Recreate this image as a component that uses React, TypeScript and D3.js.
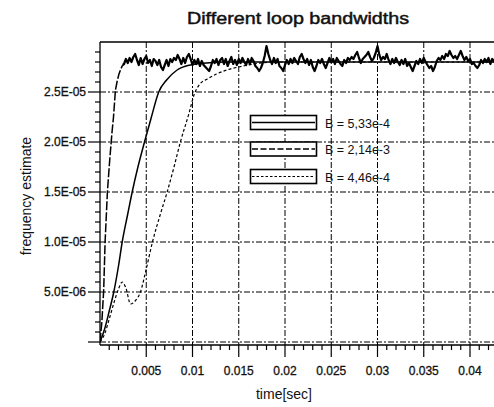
import React from 'react';
import * as d3 from 'd3';

// ---------- data (time in ms, values in units of 1e-6) ----------
const fastTimeMs = [0, 0.2, 0.4, 0.55, 0.8, 1.05, 1.3, 1.45, 1.67, 1.86, 2.05, 2.25, 2.45];
const fastValue = [0, 2.0, 5.2, 10.0, 15.0, 18.2, 21.0, 22.4, 25.2, 26.1, 26.8, 27.3, 27.7];

// noisy steady-state part of the fast loop (sampled every 0.2 ms from 2.6 ms)
const noiseStartMs = 2.6;
const noiseStepMs = 0.2;
const fastNoiseValue = [
  27.8, 28.3, 27.9, 28.4, 28.0, 28.5, 28.8, 28.2, 27.7, 28.4, 27.8, 28.3, 28.6, 27.9, 28.2, 27.6, 28.3, 28.1, 27.7, 28.2,
  27.5, 27.2, 27.7, 28.2, 27.6, 28.3, 28.0, 28.4, 28.2, 28.7, 28.3, 27.8, 28.4, 27.9, 28.5, 28.8, 28.3, 27.7, 28.2, 27.8,
  28.3, 27.6, 28.1, 27.7, 27.5, 27.3, 27.1, 27.6, 28.2, 27.9, 28.3, 27.7, 28.2, 28.4, 27.8, 28.3, 27.6, 28.1, 28.5, 27.8,
  28.2, 27.7, 28.3, 27.9, 28.4, 28.0, 27.7, 28.3, 27.8, 28.4, 28.1, 27.6, 27.4, 27.1, 27.4, 27.9, 28.6, 29.6, 28.8, 28.2,
  27.8, 28.4, 27.9, 28.3, 27.6, 27.4, 27.1, 27.7, 28.2, 27.8, 28.3, 27.9, 28.4, 28.1, 27.8, 28.5, 28.8, 28.3, 27.9, 28.3,
  27.7, 28.2, 27.5, 27.1, 27.6, 28.2, 27.9, 28.3, 27.8, 27.4, 27.9, 28.4, 28.0, 28.3, 27.8, 28.4, 28.1, 27.8, 27.6, 28.2,
  27.9, 28.4, 28.2, 28.5, 28.3, 28.7, 29.0, 28.4, 27.9, 28.3, 28.5, 28.7, 29.0, 28.5, 28.1, 28.4, 28.9, 29.6, 28.7, 28.2,
  28.5, 28.3, 28.8, 28.2, 27.8, 28.3, 27.9, 28.4, 28.0, 27.7, 28.2, 27.8, 28.3, 27.6, 27.9, 27.5, 27.1, 27.6, 28.1, 27.8,
  28.3, 27.9, 28.4, 28.0, 27.7, 27.4, 27.6, 27.1, 27.5, 28.1, 28.4, 28.2, 28.6, 28.3, 28.8, 28.6, 29.1, 28.7, 28.4, 28.6,
  28.3, 28.7, 29.1, 28.6, 28.2, 28.5, 28.1, 28.3, 27.8, 27.9, 27.6, 27.4, 27.7, 28.2, 27.9, 28.3, 28.0, 28.4, 27.8, 28.3,
  28.1, 27.8, 28.2,
];

const solidTimeMs = [0, 0.5, 1.0, 1.49, 2.0, 2.4, 3.0, 3.48, 4.1, 4.81, 5.5, 6.35, 7.2, 8.34, 9.77, 11.5, 13.5, 16, 20, 45];
const solidValue = [0, 1.3, 3.1, 5.0, 7.6, 10.0, 12.8, 15.0, 17.5, 20.0, 22.3, 25.0, 26.2, 27.2, 27.7, 27.9, 28.0, 28.0, 28.0, 28.0];

const dotTimeMs = [0, 0.5, 1.0, 1.5, 2.0, 2.4, 2.8, 3.3, 3.8, 4.37, 5.0, 5.67, 6.5, 7.26, 8.0, 8.69, 9.6, 10.2, 10.8, 11.6, 12.6, 13.7, 15.0, 16.6, 19, 45];
const dotValue = [0, 0.8, 2.3, 3.9, 5.3, 6.0, 5.4, 3.8, 4.1, 5.0, 7.3, 10.0, 12.7, 15.0, 17.5, 20.0, 22.8, 24.8, 25.8, 26.3, 26.8, 27.2, 27.5, 27.8, 28.0, 28.0];

const legendLabels = ['B = 5,33e-4', 'B = 2,14e-3', 'B = 4,46e-4'];
const xTickValues = [0.005, 0.01, 0.015, 0.02, 0.025, 0.03, 0.035, 0.04];
const xTickLabels = ['0.005', '0.01', '0.015', '0.02', '0.025', '0.03', '0.035', '0.04'];
const yTickValues = [5e-6, 1e-5, 1.5e-5, 2e-5, 2.5e-5];
const yTickLabels = ['5.0E-06', '1.0E-05', '1.5E-05', '2.0E-05', '2.5E-05'];

const W = 494;
const H = 407;
const FONT = '"Liberation Sans", Arial, sans-serif';

export default function App() {
  const x = d3.scaleLinear().domain([0, 0.045]).range([100, 100 + 9 * 46.25]);
  const y = d3.scaleLinear().domain([-0.3e-6, 3.0e-5]).range([345, 42]);

  const risePts: [number, number][] = fastTimeMs.map((t, i) => [t / 1000, fastValue[i] * 1e-6]);
  const noisePts: [number, number][] = fastNoiseValue.map((v, i) => [(noiseStartMs + i * noiseStepMs) / 1000, v * 1e-6]);
  const steadyPts: [number, number][] = [risePts[risePts.length - 1], ...noisePts];
  const solidPts: [number, number][] = solidTimeMs.map((t, i) => [t / 1000, solidValue[i] * 1e-6]);
  const dotPts: [number, number][] = dotTimeMs.map((t, i) => [t / 1000, dotValue[i] * 1e-6]);

  const lineLinear = d3.line<[number, number]>().x((d) => x(d[0])).y((d) => y(d[1]));
  const lineSmooth = d3
    .line<[number, number]>()
    .x((d) => x(d[0]))
    .y((d) => y(d[1]))
    .curve(d3.curveMonotoneX);

  const left = 100;
  const top = 42;
  const bottom = 345;
  const right = W;

  const xMinor = d3.range(1, 43).map((k) => k * 0.001).filter((v) => Math.round(v * 1000) % 5 !== 0);
  const yMinor = d3.range(1, 30).map((k) => k * 1e-6).filter((v) => Math.round(v * 1e6) % 5 !== 0);
  const gridDash = '6,2,2,2';

  const legendTop = [115.5, 142, 169.5];
  const legendStyles = [
    { dash: undefined, w: 1.5 },
    { dash: '6,2.5', w: 1.3 },
    { dash: '2.5,2', w: 1.2 },
  ];

  return (
    <svg
      width={W}
      height={H}
      style={{ position: 'absolute', left: 0, top: 0, background: '#fff' }}
      fontFamily={FONT}
    >
      <rect width={W} height={H} fill="#fff" />
      <defs>
        <clipPath id="plotClip">
          <rect x={left} y={top - 2} width={right - left} height={bottom - top + 2} />
        </clipPath>
      </defs>

      {/* title */}
      <text
        x={298}
        y={24}
        textAnchor="middle"
        fontSize={16}
        fill="#111"
        stroke="#111"
        strokeWidth={0.45}
        textLength={222}
        lengthAdjust="spacingAndGlyphs"
      >
        Different loop bandwidths
      </text>

      {/* grid */}
      <g stroke="#000" strokeWidth={1} strokeDasharray={gridDash} fill="none">
        {xTickValues.map((v) => (
          <line key={'gx' + v} x1={x(v)} x2={x(v)} y1={top} y2={bottom} />
        ))}
        {[0, ...yTickValues].map((v) => (
          <line key={'gy' + v} x1={left} x2={right} y1={y(v)} y2={y(v)} />
        ))}
      </g>

      {/* frame: top border, left spine, bottom axis */}
      <g stroke="#000" strokeWidth={1.3}>
        <line x1={left} x2={right} y1={top} y2={top} />
        <line x1={left} x2={left} y1={top} y2={bottom} />
        <line x1={left} x2={right} y1={bottom} y2={bottom} />
      </g>

      {/* x ticks */}
      <g stroke="#000" strokeWidth={1.2}>
        {xMinor.map((v) => (
          <line key={'xm' + v} x1={x(v)} x2={x(v)} y1={bottom} y2={bottom + 5} />
        ))}
        {xTickValues.map((v) => (
          <line key={'xM' + v} x1={x(v)} x2={x(v)} y1={bottom} y2={bottom + 12} />
        ))}
      </g>
      <g fontSize={12} fill="#111" stroke="#111" strokeWidth={0.3} textAnchor="middle">
        {xTickValues.map((v, i) => (
          <text key={'xl' + v} x={x(v)} y={375}>
            {xTickLabels[i]}
          </text>
        ))}
      </g>

      {/* y ticks */}
      <g stroke="#000" strokeWidth={1.2}>
        {yMinor.map((v) => (
          <line key={'ym' + v} x1={left - 5} x2={left} y1={y(v)} y2={y(v)} />
        ))}
        {[0, ...yTickValues].map((v) => (
          <line key={'yM' + v} x1={left - 12} x2={left} y1={y(v)} y2={y(v)} />
        ))}
      </g>
      <g fontSize={12} fill="#111" stroke="#111" strokeWidth={0.3} textAnchor="end">
        {yTickValues.map((v, i) => (
          <text key={'yl' + v} x={86} y={y(v) + 4.2}>
            {yTickLabels[i]}
          </text>
        ))}
      </g>

      {/* axis titles */}
      <text x={284} y={399} textAnchor="middle" fontSize={14} fill="#111">
        time[sec]
      </text>
      <text transform={`translate(31,196) rotate(-90)`} textAnchor="middle" fontSize={14} fill="#111">
        frequency estimate
      </text>

      {/* curves */}
      <g clipPath="url(#plotClip)" fill="none" stroke="#000" strokeLinejoin="round">
        <path d={lineSmooth(dotPts) || ''} strokeWidth={1.2} strokeDasharray="3,2.2" />
        <path d={lineSmooth(solidPts) || ''} strokeWidth={1.5} />
        <path d={lineLinear(risePts) || ''} strokeWidth={1.5} strokeDasharray="9,2" />
        <path d={lineLinear(steadyPts) || ''} strokeWidth={2.2} />
      </g>

      {/* legend */}
      <g>
        {legendLabels.map((lab, i) => (
          <g key={lab}>
            <rect x={250.5} y={legendTop[i]} width={66} height={14} fill="#fff" stroke="#000" strokeWidth={1.6} />
            <line
              x1={252}
              x2={315}
              y1={legendTop[i] + 7}
              y2={legendTop[i] + 7}
              stroke="#000"
              strokeWidth={legendStyles[i].w}
              strokeDasharray={legendStyles[i].dash}
            />
            <text x={325} y={legendTop[i] + 12} fontSize={12.5} fill="#111">
              {lab}
            </text>
          </g>
        ))}
      </g>
    </svg>
  );
}
